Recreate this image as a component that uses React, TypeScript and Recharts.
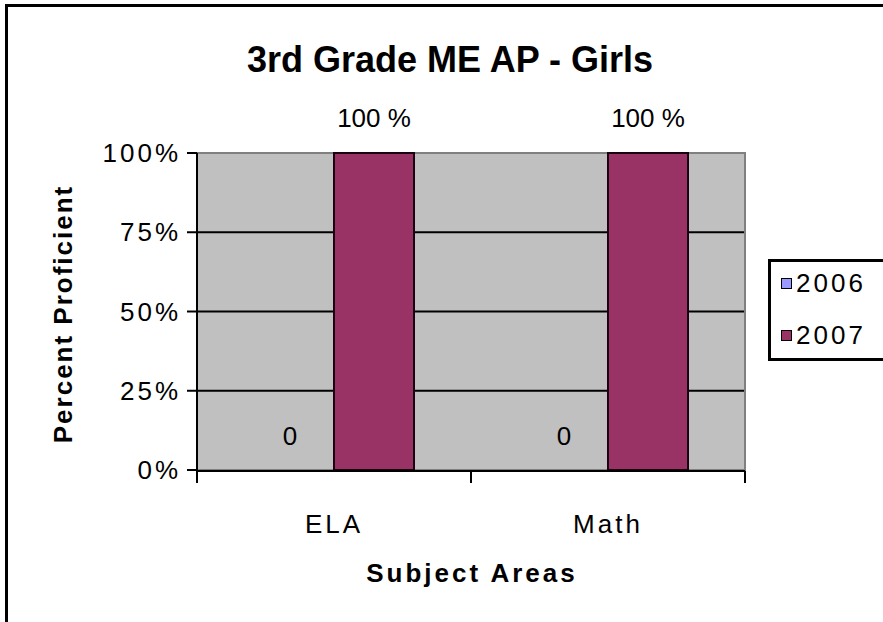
import React from "react";
import {
  BarChart,
  Bar,
  XAxis,
  YAxis,
  CartesianGrid,
  ReferenceArea,
  Legend,
  LabelList,
} from "recharts";

// values
const subjects = ["ELA", "Math"];
const scores2006 = [0, 0];
const scores2007 = [1, 1];
const seriesYears = ["2006", "2007"];
const seriesColors = ["#9999ff", "#993366"];
const yTicks = [0, 0.25, 0.5, 0.75, 1];
const gridLevels = [0.25, 0.5, 0.75];
const edgeTicks = [0, 1, 2];

const data = subjects.map((subject, i) => ({
  subject,
  pos: i + 0.5,
  y2006: scores2006[i],
  y2007: scores2007[i],
}));

const FONT = '"Liberation Sans", Arial, sans-serif';

const YTick = ({ x, y, payload }: any) => (
  <text
    x={x}
    y={y}
    dy={9}
    textAnchor="end"
    fontFamily={FONT}
    fontSize={26}
    letterSpacing={3}
    fill="#000"
  >
    {Math.round(payload.value * 100)}%
  </text>
);

const CatTick = ({ x, y, payload }: any) => (
  <text
    x={x}
    y={y}
    dy={57}
    textAnchor="middle"
    fontFamily={FONT}
    fontSize={26}
    letterSpacing={3}
    fill="#000"
  >
    {payload.value}
  </text>
);

// label of the (zero height) 2006 bar, placed from the 2007 bar next to it
const zeroLabel = (props: any) => {
  const { x, y, width, height, index } = props;
  return (
    <text
      x={x - width / 2 - 4}
      y={y + height - 25}
      textAnchor="middle"
      fontFamily={FONT}
      fontSize={26}
      fill="#000"
    >
      {scores2006[index]}
    </text>
  );
};

const pctLabel = (props: any) => {
  const { x, y, width, value } = props;
  return (
    <text
      x={x + width / 2}
      y={y - 26}
      textAnchor="middle"
      fontFamily={FONT}
      fontSize={26}
      fill="#000"
    >
      {Math.round(value * 100)} %
    </text>
  );
};

const LegendBox = () => (
  <div
    style={{
      position: "relative",
      width: 130,
      height: 102,
      boxSizing: "border-box",
      border: "3px solid #000",
      background: "#fff",
      fontFamily: FONT,
      fontSize: 26,
      letterSpacing: 3,
      color: "#000",
    }}
  >
    {seriesYears.map((year, i) => (
      <div
        key={year}
        style={{
          position: "absolute",
          left: 10,
          top: 6 + i * 52,
          height: 30,
          display: "flex",
          alignItems: "center",
          lineHeight: "30px",
        }}
      >
        <span
          style={{
            display: "inline-block",
            width: 9,
            height: 9,
            background: seriesColors[i],
            border: "1px solid #000",
            marginRight: 4,
          }}
        />
        <span>{year}</span>
      </div>
    ))}
  </div>
);

export default function App() {
  return (
    <div
      style={{
        position: "absolute",
        left: 0,
        top: 0,
        width: 883,
        height: 622,
        background: "#fff",
        overflow: "hidden",
      }}
    >
      <div
        style={{
          position: "absolute",
          left: 5,
          top: 4,
          width: 900,
          height: 700,
          borderTop: "3px solid #000",
          borderLeft: "3px solid #000",
        }}
      />
      <BarChart
        width={883}
        height={622}
        data={data}
        margin={{ top: 153, right: 138, bottom: 150, left: 117 }}
        barCategoryGap={57}
        barGap={0}
      >
        <CartesianGrid
          xAxisId="cat"
          vertical={false}
          horizontalValues={gridLevels}
          stroke="#000"
          strokeWidth={2}
          fill="#c0c0c0"
          fillOpacity={1}
        />
        <ReferenceArea
          xAxisId="cat"
          x1="ELA"
          x2="Math"
          y1={0}
          y2={1}
          fill="none"
          stroke="#808080"
          strokeWidth={2}
        />
        <XAxis
          xAxisId="edge"
          type="number"
          dataKey="pos"
          domain={[0, 2]}
          ticks={edgeTicks}
          allowDataOverflow
          interval={0}
          height={1}
          axisLine={{ stroke: "#000", strokeWidth: 2 }}
          tickLine={{ stroke: "#000", strokeWidth: 2 }}
          tickSize={12}
          tick={() => <g />}
        />
        <XAxis
          xAxisId="cat"
          dataKey="subject"
          height={1}
          axisLine={false}
          tickLine={false}
          tickMargin={0}
          interval={0}
          tick={<CatTick />}
        />
        <YAxis
          domain={[0, 1]}
          ticks={yTicks}
          interval={0}
          width={80}
          axisLine={{ stroke: "#000", strokeWidth: 2 }}
          tickLine={{ stroke: "#000", strokeWidth: 2 }}
          tickSize={10}
          tickMargin={6}
          tick={<YTick />}
        />
        <Legend
          layout="vertical"
          align="center"
          verticalAlign="middle"
          wrapperStyle={{ left: 768, top: 259, width: 140 }}
          content={() => <LegendBox />}
        />
        <Bar
          xAxisId="cat"
          dataKey="y2006"
          name={seriesYears[0]}
          fill={seriesColors[0]}
          isAnimationActive={false}
        />
        <Bar
          xAxisId="cat"
          dataKey="y2007"
          name={seriesYears[1]}
          fill={seriesColors[1]}
          stroke="#1a0010"
          strokeWidth={2}
          isAnimationActive={false}
        >
          <LabelList dataKey="y2007" content={pctLabel} />
          <LabelList dataKey="y2007" content={zeroLabel} />
        </Bar>
      </BarChart>
      <svg
        width={883}
        height={622}
        style={{ position: "absolute", left: 0, top: 0, pointerEvents: "none" }}
      >
        <text
          x={450}
          y={72}
          textAnchor="middle"
          fontFamily={FONT}
          fontSize={36}
          fontWeight="bold"
          fill="#000"
        >
          3rd Grade ME AP - Girls
        </text>
        <text
          transform="translate(72,314) rotate(-90)"
          textAnchor="middle"
          fontFamily={FONT}
          fontSize={26}
          fontWeight="bold"
          letterSpacing={2}
          fill="#000"
        >
          Percent Proficient
        </text>
        <text
          x={472}
          y={582}
          textAnchor="middle"
          fontFamily={FONT}
          fontSize={26}
          fontWeight="bold"
          letterSpacing={3}
          fill="#000"
        >
          Subject Areas
        </text>
      </svg>
    </div>
  );
}
